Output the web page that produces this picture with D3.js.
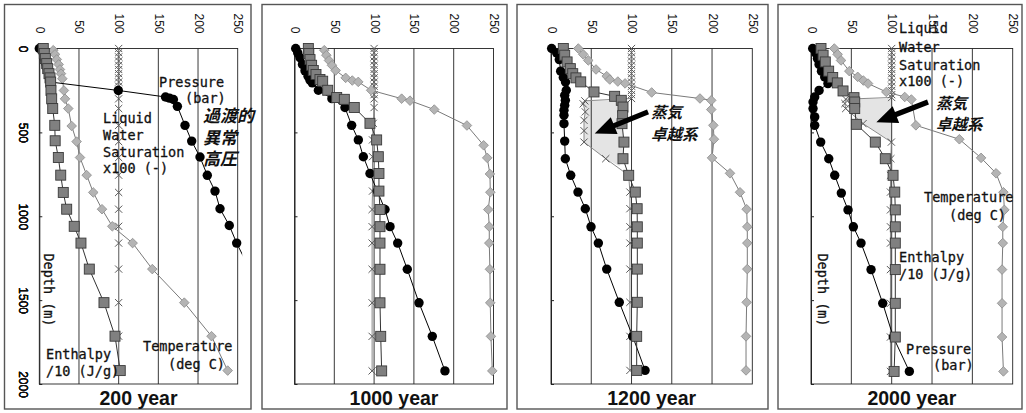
<!DOCTYPE html>
<html><head><meta charset="utf-8">
<script src="https://cdn.jsdelivr.net/npm/d3@7"></script>
<style>body{margin:0;background:#fff}svg{display:block}</style>
</head><body>
<svg id="c" width="1026" height="413"></svg>
<script>
// ---------------- data ----------------
const years = ["200 year", "1000 year", "1200 year", "2000 year"];
const xTicks = [0, 50, 100, 150, 200, 250];
const depthTicks = [0, 500, 1000, 1500, 2000];
const gridValues = [50, 100, 150, 200];

// each point: [value, depth (m)]
// --- 200 year ---
const pressure200 = [[0,0],[5,30],[6.3,60],[8,90],[10,120],[12,150],[13.5,175],[14.3,200],[99.5,250],[159,289],[164,296],[169,304],[174,345],[183.6,458],[192,552],[202.5,647],[211.7,756],[221.4,850],[227.7,955],[239.4,1055],[248.7,1160],[265,1315]];
const enthalpy200 = [[5,0],[6.3,30],[7.6,60],[9.3,90],[10.6,120],[12.2,150],[13.5,175],[14.3,200],[14.7,250],[15.6,300],[16.9,358],[19.5,458],[20,550],[24,650],[27,755],[30.2,858],[34.5,958],[44,1060],[52.5,1160],[63,1315],[81.5,1515],[95.4,1715],[102,1920]];
const temp200 = [[17.6,10],[19.8,35],[22,65],[24.4,95],[26,125],[27.3,150],[29,180],[31,250],[32.4,300],[36.5,358],[40.8,462],[47,555],[51.3,650],[59.7,755],[68,858],[79,958],[92,1060],[117.6,1160],[142.4,1315],[182.7,1515],[217,1715],[237.4,1920]];
const sat200 = [[100,0],[100,25],[100,50],[100,75],[100,100],[100,125],[100,150],[100,175],[100,200],[100,225],[100,250],[100,300],[100,358],[100,458],[100,555],[100,650],[100,755],[100,858],[100,958],[100,1060],[100,1160],[100,1315],[100,1515],[100,1715],[100,1920]];

// --- 1000 year ---
const pressure1000 = [[1.5,0],[4,26],[6.9,54],[10,95],[13.2,133],[17,165],[19.5,189],[22.4,205],[30,249],[47,299],[63.4,352],[71.8,458],[80.2,545],[86.5,645],[94.8,745],[104,850],[113.7,960],[120,1062],[129.6,1160],[141.7,1316],[156.4,1516],[173.1,1716],[189,1922]];
const enthalpy1000 = [[17.4,0],[18,30],[19.5,66],[21.5,100],[23.6,131],[27,155],[32,185],[35.4,195],[41.7,249],[53,292],[62.6,303],[75.1,352],[94.8,446],[103.2,545],[105.3,645],[106.1,745],[106.1,850],[107.4,960],[107.4,1062],[107.4,1160],[107.4,1316],[107.4,1516],[108.3,1716],[109.5,1922]];
const temp1000 = [[37.4,10],[40,40],[43.3,71],[47,100],[51.7,131],[64.3,175],[72.6,191],[80.1,199],[96.3,249],[134.6,299],[145.1,311],[175.6,364],[216.6,459],[237.6,577],[242.1,652],[245.5,748],[246,857],[243.4,960],[244.7,1062],[244.7,1160],[245.5,1316],[245.9,1516],[246.8,1716],[248.5,1922]];
const sat1000 = [[100,0],[100,25],[100,50],[100,75],[100,100],[100,125],[100,150],[100,175],[100,200],[100,225],[100,250],[100,275],[100,300],[100,352],[99,446],[98,545],[98,645],[98,745],[98,850],[97.5,960],[97.5,1062],[97.5,1160],[97.5,1316],[97.5,1516],[97.5,1716],[97.5,1922]];

// --- 1200 year ---
const pressure1200 = [[0.8,0],[7,26],[10.3,66],[12,135],[15.3,173],[18,200],[19,249],[17,279],[17.8,309],[17,338],[16.1,368],[16.1,398],[16.1,448],[17,552],[17.8,657],[24.5,756],[33.5,856],[42.6,955],[49.7,1063],[58.8,1160],[69.2,1315],[84.8,1513],[101.5,1716],[116.8,1919]];
const enthalpy1200 = [[15.3,0],[17,40],[20,80],[24,120],[27,150],[31,175],[36.9,199],[53.4,259],[79,285],[87.3,309],[89.4,349],[89,400],[88.2,448],[90.6,558],[89.4,657],[96.5,756],[104.7,856],[107,955],[107.2,1063],[107.2,1160],[107.2,1315],[107.2,1513],[106.4,1716],[106.4,1919]];
const temp1200 = [[33.9,0],[40,35],[46.3,71],[55.9,125],[69.2,165],[73,185],[83,197],[92,208],[125,262],[185,298],[199,309],[199,364],[201.6,458],[202.4,541],[200,652],[222.3,744],[234.7,857],[243,958],[243.8,1063],[243.8,1160],[243.8,1315],[243,1513],[242.2,1716],[242.2,1919]];
const sat1200 = [[100,0],[100,25],[100,50],[100,75],[100,100],[100,125],[100,150],[100,175],[100,200],[100,225],[100,250],[100,275],[100,298],[42,312],[40,330],[42.6,378],[41,428],[41,490],[41,558],[68,657],[96.5,756],[98,856],[98,955],[98,1063],[98,1160],[98,1315],[98,1513],[98,1716],[98,1919]];
const steam1200 = [[42,312],[40,330],[42.6,378],[41,428],[41,490],[41,558],[68,657],[85,700],[89.4,657],[90.6,558],[88.2,448],[89,400],[89.4,349],[87.3,312]];
const arrow1200 = [[120.5,378],[54.3,507]];

// --- 2000 year ---
const pressure2000 = [[2.1,0],[6.2,30],[8,60],[10,95],[13,135],[17,170],[21,209],[10,250],[4.6,289],[2.5,319],[2.5,358],[4.6,408],[4.6,458],[12,558],[22,657],[29.4,756],[37.6,862],[45.9,962],[52.5,1063],[62,1160],[74.4,1318],[88.9,1519],[102,1720],[121.9,1925]];
const enthalpy2000 = [[12.4,0],[15,40],[17.7,80],[21.9,135],[26.9,173],[32.6,205],[39.7,253],[53.3,293],[54.2,319],[54.2,358],[56.2,452],[79.7,558],[92.1,657],[101.7,756],[103.8,856],[104.5,962],[104.5,1063],[104.5,1160],[104.5,1318],[104.5,1519],[104.5,1720],[103,1925]];
const temp2000 = [[28.9,0],[33,35],[37.2,71],[47.5,135],[57.9,169],[64.9,191],[70.7,209],[93.4,259],[116.2,289],[124.4,304],[130,458],[183.9,541],[210.8,652],[229.4,744],[238.5,857],[239.7,962],[237.7,1063],[237.7,1160],[236.8,1318],[236.8,1519],[236.8,1720],[238.5,1925]];
const sat2000 = [[100,0],[100,25],[100,50],[100,75],[100,100],[100,125],[100,150],[100,175],[100,200],[100,225],[100,250],[100,275],[100,292],[43,302],[42,328],[43,358],[64.5,448],[99.6,558],[99,657],[98.5,756],[98.5,856],[98.5,962],[98.5,1063],[98.5,1160],[98.5,1318],[98.5,1519],[98.5,1720],[98.5,1925]];
const steam2000 = [[54,300],[100,300],[100,555],[64.5,448],[54,404]];
const arrow2000 = [[145,319],[81,439]];

// ---------------- layout ----------------
const PLOT_TOP = 48.5, PLOT_BOTTOM = 384;
const FRAME_TOP = 4.5, FRAME_BOTTOM = 409;
const MONO = "'DejaVu Sans Mono', 'Liberation Mono', monospace";
const SANS = "'Liberation Sans', Arial, sans-serif";
const JP = "'Noto Sans CJK JP', sans-serif";

const panels = [
  { frame:[4.5,251], xr:[39.3,237.7], title:years[0], P:pressure200, H:enthalpy200, T:temp200, S:sat200,
    depthLabel:[49,290],
    texts:[
      ["Pressure",159,87,"m"],["(bar)",185,103,"m"],
      ["Liquid",103,123,"m"],["Water",103,140,"m"],["Saturation",103,157,"m"],["x100 (-)",103,173,"m"],
      ["Enthalpy",46,359,"m"],["/10 (J/g)",46,376,"m"],
      ["Temperature",143,351,"m"],["(deg C)",168,369,"m"],
      ["過渡的",203,122,"j1"],["異常",203,144,"j1"],["高圧",203,165,"j1"]
    ]},
  { frame:[262,507], xr:[294.5,493.5], title:years[1], P:pressure1000, H:enthalpy1000, T:temp1000, S:sat1000, texts:[] },
  { frame:[517,768], xr:[551,752.3], title:years[2], P:pressure1200, H:enthalpy1200, T:temp1200, S:sat1200,
    steam:steam1200, arrow:arrow1200,
    texts:[["蒸気",651,118,"j2"],["卓越系",651,140,"j2"]]},
  { frame:[778,1022], xr:[811,1012.7], title:years[3], P:pressure2000, H:enthalpy2000, T:temp2000, S:sat2000,
    steam:steam2000, arrow:arrow2000, depthLabel:[823,290],
    texts:[
      ["Liquid",899,33,"m"],["Water",899,51.5,"m"],["Saturation",899,69.5,"m"],["x100 (-)",899,86,"m"],
      ["蒸気",936,109,"j2"],["卓越系",936,130,"j2"],
      ["Temperature",924,202,"m"],["(deg C)",949,220,"m"],
      ["Enthalpy",899,262,"m"],["/10 (J/g)",899,279,"m"],
      ["Pressure",906,354,"m"],["(bar)",933,370,"m"]
    ]}
];

const svg = d3.select("#c");
svg.append("rect").attr("width",1026).attr("height",413).attr("fill","#fff");

panels.forEach((p, i) => {
  const xs = d3.scaleLinear().domain([0,250]).range(p.xr);
  const ys = d3.scaleLinear().domain([0,2000]).range([PLOT_TOP, PLOT_BOTTOM]);
  const g = svg.append("g");

  // outer frame
  g.append("rect").attr("x",p.frame[0]).attr("y",FRAME_TOP)
    .attr("width",p.frame[1]-p.frame[0]).attr("height",FRAME_BOTTOM-FRAME_TOP)
    .attr("fill","none").attr("stroke","#555").attr("stroke-width",1.4);

  // steam shading
  if (p.steam) {
    g.append("path").attr("d", d3.line().x(d=>xs(d[0])).y(d=>ys(d[1]))(p.steam) + "Z")
      .attr("fill","#e4e4e4").attr("stroke","none");
  }

  // gridlines
  g.selectAll(".grid").data(gridValues).join("line")
    .attr("x1",d=>xs(d)).attr("x2",d=>xs(d)).attr("y1",PLOT_TOP).attr("y2",PLOT_BOTTOM)
    .attr("stroke","#222").attr("stroke-width",0.9);
  // plot border
  g.append("rect").attr("x",xs(0)).attr("y",PLOT_TOP).attr("width",xs(250)-xs(0)).attr("height",PLOT_BOTTOM-PLOT_TOP)
    .attr("fill","none").attr("stroke","#222").attr("stroke-width",0.9);

  // top value axis (rotated labels)
  const ax = g.append("g").attr("transform",`translate(0,${PLOT_TOP})`)
    .call(d3.axisTop(xs).tickValues(xTicks).tickSize(0).tickFormat(d3.format("d")));
  ax.select(".domain").remove();
  ax.selectAll("text").attr("x",0).attr("y",0).attr("dy",null)
    .attr("transform","translate(0,-15) rotate(90)")
    .attr("text-anchor","end").attr("dominant-baseline","central")
    .attr("font-family",SANS).attr("font-size",12).attr("fill","#111");

  // depth axis
  const ay = g.append("g").attr("transform",`translate(${xs(0)},0)`)
    .call(d3.axisLeft(ys).tickValues(depthTicks).tickFormat(d3.format("d")).tickSizeInner(-3).tickSizeOuter(0).tickPadding(0));
  ay.select(".domain").attr("stroke","#222");
  ay.selectAll("line").attr("stroke","#222");
  ay.selectAll("text").attr("x",0).attr("dy",null)
    .attr("transform",`translate(${22.5 - xs(0)},0) rotate(90)`)
    .attr("text-anchor","middle").attr("dominant-baseline","central")
    .attr("font-family",SANS).attr("font-size",12).attr("fill","#111");

  // clip for lines
  const cid = "clip"+i;
  svg.append("defs").append("clipPath").attr("id",cid).append("rect")
    .attr("x",xs(0)-10).attr("y",PLOT_TOP-10).attr("width",xs(250)-xs(0)+14.5).attr("height",PLOT_BOTTOM-PLOT_TOP+20);

  const line = d3.line().x(d=>xs(d[0])).y(d=>ys(d[1]));
  const inside = d => d[0] <= 252;

  // saturation
  g.append("path").attr("d",line(p.S)).attr("fill","none").attr("stroke","#8a8a8a").attr("stroke-width",1).attr("clip-path",`url(#${cid})`);
  g.selectAll(".sx").data(p.S.filter(inside)).join("path")
    .attr("transform",d=>`translate(${xs(d[0])},${ys(d[1])})`)
    .attr("d","M-3.6,-3.6L3.6,3.6M-3.6,3.6L3.6,-3.6").attr("stroke","#5a5a5a").attr("stroke-width",1).attr("fill","none");

  // temperature
  g.append("path").attr("d",line(p.T)).attr("fill","none").attr("stroke","#7a7a7a").attr("stroke-width",1).attr("clip-path",`url(#${cid})`);
  g.selectAll(".td").data(p.T.filter(inside)).join("path")
    .attr("transform",d=>`translate(${xs(d[0])},${ys(d[1])})`)
    .attr("d","M0,-4.8L4.8,0L0,4.8L-4.8,0Z").attr("fill","#b4b4b4").attr("stroke","#8c8c8c").attr("stroke-width",0.8);

  // pressure
  g.append("path").attr("d",line(p.P)).attr("fill","none").attr("stroke","#000").attr("stroke-width",1).attr("clip-path",`url(#${cid})`);
  g.selectAll(".pc").data(p.P.filter(inside)).join("circle")
    .attr("cx",d=>xs(d[0])).attr("cy",d=>ys(d[1])).attr("r",4.7).attr("fill","#000");

  // enthalpy
  g.append("path").attr("d",line(p.H)).attr("fill","none").attr("stroke","#333").attr("stroke-width",1).attr("clip-path",`url(#${cid})`);
  g.selectAll(".hs").data(p.H.filter(inside)).join("rect")
    .attr("x",d=>xs(d[0])-5).attr("y",d=>ys(d[1])-5).attr("width",10).attr("height",10)
    .attr("fill","#808080").attr("stroke","#3a3a3a").attr("stroke-width",0.9);

  // arrow
  if (p.arrow) {
    const [a,b] = p.arrow;
    const x1 = xs(a[0]), y1 = ys(a[1]), x2 = xs(b[0]), y2 = ys(b[1]);
    const L = Math.hypot(x2-x1,y2-y1), ux=(x2-x1)/L, uy=(y2-y1)/L, nx=-uy, ny=ux;
    const hl = 21, hw = 9, sw = 2.6;
    const bx = x2-ux*hl, by = y2-uy*hl;
    const pts = [[x1+nx*sw,y1+ny*sw],[bx+nx*sw,by+ny*sw],[bx+nx*hw,by+ny*hw],[x2,y2],[bx-nx*hw,by-ny*hw],[bx-nx*sw,by-ny*sw],[x1-nx*sw,y1-ny*sw]];
    g.append("path").attr("d","M"+pts.map(q=>q.join(",")).join("L")+"Z").attr("fill","#000");
  }

  // annotations
  p.texts.forEach(t => {
    const el = g.append("text").attr("x",t[1]).attr("y",t[2]).text(t[0]).attr("fill","#111");
    if (t[3] === "m") el.attr("font-family",MONO).attr("font-size",13.5).attr("stroke","#111").attr("stroke-width",0.3);
    else if (t[3] === "j1") el.attr("font-family",JP).attr("font-size",17).attr("font-weight","bold").attr("font-style","italic");
    else el.attr("font-family",JP).attr("font-size",15.5).attr("font-weight","bold").attr("font-style","italic");
  });
  if (p.depthLabel) {
    g.append("text").attr("transform",`translate(${p.depthLabel[0]},${p.depthLabel[1]}) rotate(90)`)
      .attr("text-anchor","middle").attr("dominant-baseline","central")
      .attr("font-family",MONO).attr("font-size",13.5).attr("fill","#111").attr("stroke","#111").attr("stroke-width",0.3).text("Depth (m)");
  }

  // title
  g.append("text").attr("x",(xs(0)+xs(250))/2).attr("y",405).attr("text-anchor","middle")
    .attr("font-family",SANS).attr("font-weight","bold").attr("font-size",19.5).attr("fill","#111").text(p.title);
});
</script>
</body></html>
